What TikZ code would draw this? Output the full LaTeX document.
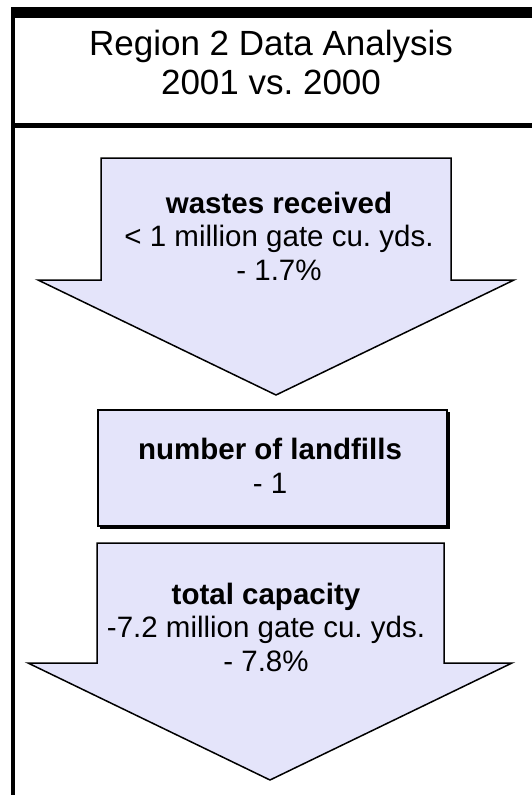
\documentclass[tikz,border=0pt]{standalone}
\usepackage{fontspec}
\setmainfont{Liberation Sans}
\usetikzlibrary{positioning}
\frenchspacing
\definecolor{arrowfill}{RGB}{228,228,250}
\tikzset{arrowbox/.style={draw=black, fill=arrowfill, line width=1.5pt, line join=miter}}
\tikzset{bodytext/.style={font=\fontsize{29.5}{33.5}\selectfont, align=center,
    inner sep=0pt, anchor=base}}
\tikzset{titletext/.style={font=\fontsize{35}{39}\selectfont, align=center,
    inner sep=0pt, anchor=base}}

\begin{document}
\begin{tikzpicture}[x=1pt, y=-1pt]
    \useasboundingbox (0,0) rectangle (532,795);
    % frame
    \fill[black] (11,7) rectangle (532,18);
    \fill[black] (11,7) rectangle (15,795);
    \fill[black] (11,123) rectangle (532,128);
    % text anchors sit on the last line
    \node[titletext] (title) at (271,94) {Region 2 Data Analysis\\2001 vs. 2000};
    % wastes received
    \filldraw[arrowbox] (101,158) -- (451,158) -- (451,280) -- (514,280)
      -- (276,395) -- (38,280) -- (101,280) -- cycle;
    \node[bodytext] (wastes) at (279,280) {\textbf{wastes received}\\%
      < 1 million gate cu. yds.\\- 1.7\%};
    % number of landfills
    \fill[black] (99.5,411.5) rectangle (449.5,528.5);
    \filldraw[arrowbox] (98,410) rectangle (447,526);
    \node[bodytext] (landfills) at (270,493) {\textbf{number of landfills}\\- 1};
    % total capacity
    \filldraw[arrowbox] (97,543) -- (444,543) -- (444,663) -- (512,663)
      -- (270,780) -- (28,663) -- (97,663) -- cycle;
    \node[bodytext] (capacity) at (266,671) {\textbf{total capacity}\\%
      -7.2 million gate cu. yds.\\- 7.8\%};
  \end{tikzpicture}
\end{document}
